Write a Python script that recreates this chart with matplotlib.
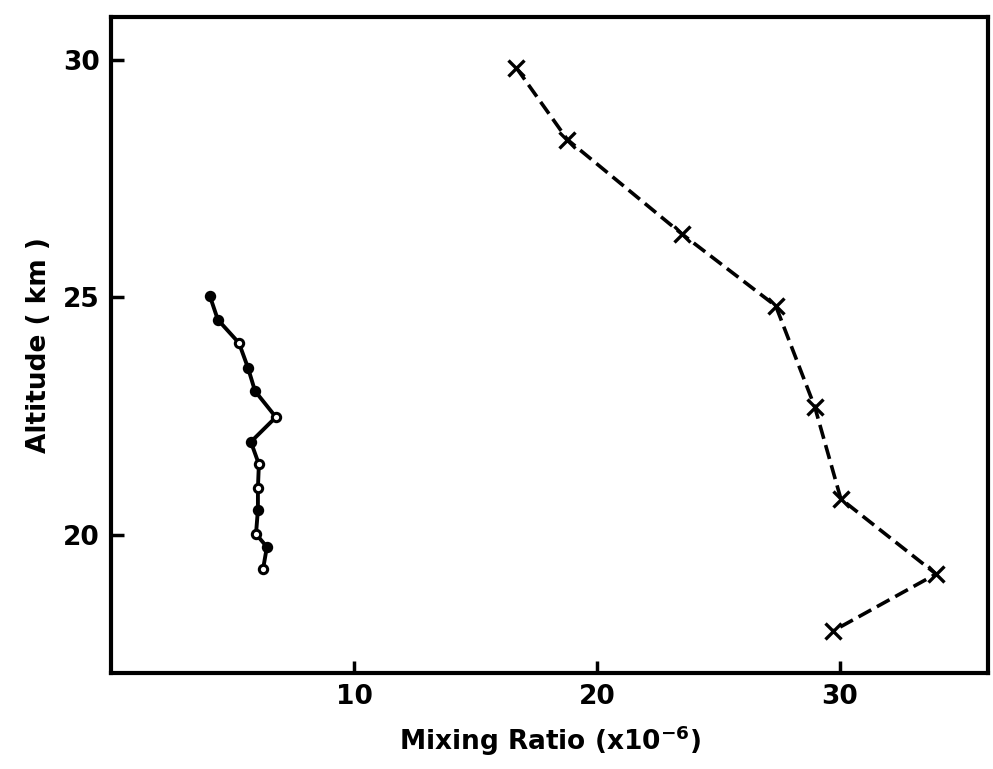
import matplotlib
matplotlib.use("Agg")
import matplotlib.pyplot as plt

# balloon profile (solid, circles)
solid_ratio = [4.06, 4.39, 5.26, 5.63, 5.92, 6.78, 5.75, 6.08, 6.04, 6.04, 5.96, 6.41, 6.25]
solid_alt = [25.03, 24.53, 24.04, 23.52, 23.03, 22.48, 21.96, 21.49, 20.99, 20.53, 20.02, 19.75, 19.28]
solid_filled = [True, True, False, True, True, False, True, False, False, True, False, True, False]

# second profile (dashed, crosses)
dashed_ratio = [16.68, 18.78, 23.48, 27.36, 28.97, 30.04, 33.96, 29.71]
dashed_alt = [29.83, 28.32, 26.34, 24.82, 22.69, 20.76, 19.18, 17.98]

x_ticks = [10, 20, 30]
y_ticks = [20, 25, 30]

plt.rcParams['font.family'] = ['DejaVu Sans']
plt.rcParams['font.weight'] = 'bold'

fig = plt.figure(figsize=(9.93, 7.69), dpi=100)
ax = fig.add_axes([0.112, 0.125, 0.883, 0.853])

ax.plot(solid_ratio, solid_alt, color='black', lw=2.8, zorder=2)
for x, y, f in zip(solid_ratio, solid_alt, solid_filled):
    ax.plot(x, y, marker='o', ms=6, mec='black', mew=2.2,
            mfc='black' if f else 'white', zorder=3)

ax.plot(dashed_ratio, dashed_alt, color='black', lw=2.6, dashes=(4, 1.8),
        marker='x', ms=11, mew=2.4)

ax.set_xlim(0, 36.1)
ax.set_ylim(17.1, 30.9)
ax.set_xticks(x_ticks)
ax.set_yticks(y_ticks)
ax.tick_params(direction='in', length=9, width=2.5, labelsize=19, pad=8)
for lab in ax.get_xticklabels() + ax.get_yticklabels():
    lab.set_fontweight('bold')
for s in ax.spines.values():
    s.set_linewidth(3)

ax.set_xlabel('Mixing Ratio (x10$^{-6}$)', fontsize=19, fontweight='bold', labelpad=10)
ax.set_ylabel('Altitude ( km )', fontsize=19, fontweight='bold', labelpad=8)

fig.savefig('out.png', dpi=100)
